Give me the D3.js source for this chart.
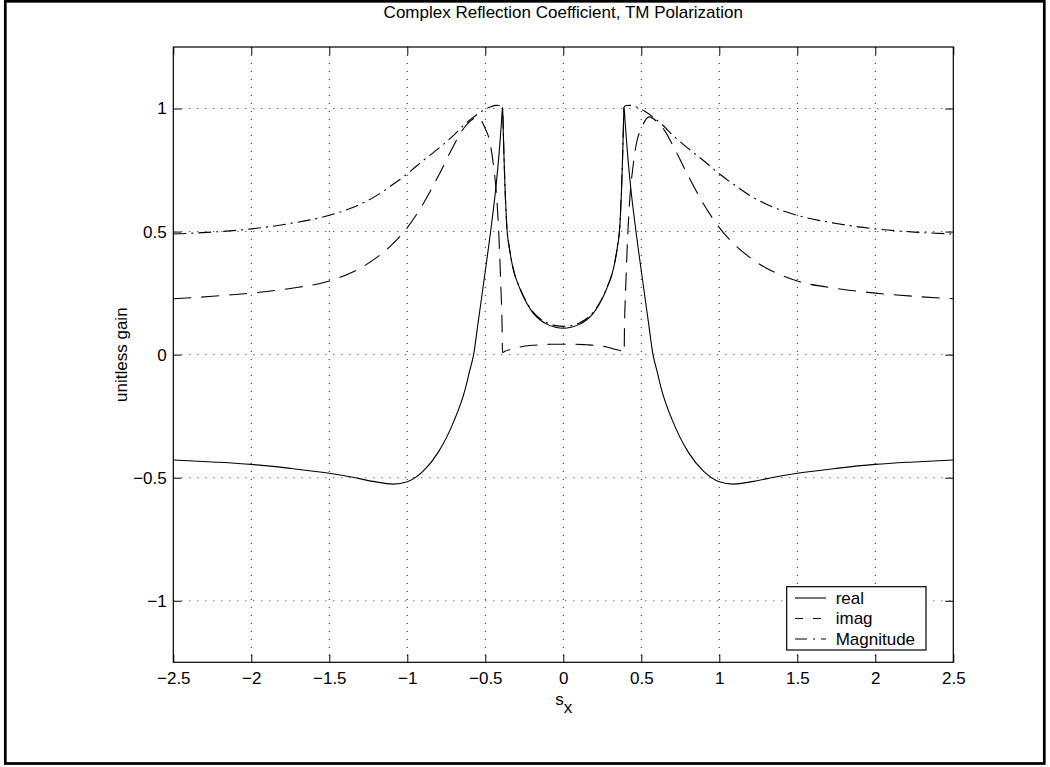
<!DOCTYPE html>
<html>
<head>
<meta charset="utf-8">
<script src="https://cdn.jsdelivr.net/npm/d3@7"></script>
<style>
  body { margin: 0; background: #fff; }
  svg { display: block; }
  text { font-family: "Liberation Sans", Arial, Helvetica, sans-serif; fill: #000; }
</style>
</head>
<body>
<div id="chart"></div>
<script>
// values: [s_x, value]
const realPts = [
  [-2.5, -0.428], [-2.25, -0.436], [-2.0, -0.446], [-1.75, -0.462], [-1.5, -0.482],
  [-1.35, -0.498], [-1.22, -0.515], [-1.09, -0.526], [-1.0, -0.516], [-0.9, -0.474],
  [-0.8, -0.395], [-0.7, -0.268], [-0.631, -0.145], [-0.6, -0.065], [-0.575, 0.0],
  [-0.545, 0.135], [-0.5, 0.34], [-0.46, 0.53], [-0.432, 0.68], [-0.41, 0.83],
  [-0.398, 0.93], [-0.389, 1.005], [-0.385, 0.915], [-0.38, 0.80], [-0.372, 0.65],
  [-0.363, 0.528], [-0.345, 0.43], [-0.32, 0.345], [-0.278, 0.268], [-0.235, 0.21],
  [-0.192, 0.168], [-0.15, 0.142], [-0.106, 0.124], [-0.05, 0.111], [0, 0.107],
  [0.05, 0.111], [0.106, 0.124], [0.15, 0.142], [0.192, 0.168], [0.235, 0.21],
  [0.278, 0.268], [0.32, 0.345], [0.345, 0.43], [0.363, 0.528], [0.372, 0.65],
  [0.38, 0.80], [0.385, 0.915], [0.389, 1.005], [0.398, 0.93], [0.41, 0.83],
  [0.432, 0.68], [0.46, 0.53], [0.5, 0.34], [0.545, 0.135], [0.575, 0.0],
  [0.6, -0.065], [0.631, -0.145], [0.7, -0.268], [0.8, -0.395], [0.9, -0.474],
  [1.0, -0.516], [1.09, -0.526], [1.22, -0.515], [1.35, -0.498], [1.5, -0.482],
  [1.75, -0.462], [2.0, -0.446], [2.25, -0.436], [2.5, -0.428]
];

const imagPts = [
  [-2.5, 0.227], [-2.25, 0.237], [-2.0, 0.25], [-1.75, 0.269], [-1.5, 0.299],
  [-1.4, 0.322], [-1.3, 0.352], [-1.2, 0.393], [-1.1, 0.446], [-1.0, 0.516],
  [-0.9, 0.611], [-0.8, 0.727], [-0.7, 0.853], [-0.65, 0.91], [-0.6, 0.947],
  [-0.55, 0.966], [-0.5, 0.918], [-0.47, 0.862], [-0.444, 0.75], [-0.427, 0.64],
  [-0.412, 0.47], [-0.4, 0.27], [-0.392, 0.10], [-0.39, 0.008], [-0.38, 0.012],
  [-0.33, 0.022], [-0.278, 0.031], [-0.2, 0.038], [-0.149, 0.04], [-0.08, 0.042],
  [0, 0.042], [0.08, 0.042], [0.149, 0.04], [0.2, 0.038], [0.278, 0.031],
  [0.33, 0.022], [0.38, 0.012], [0.39, 0.008], [0.392, 0.10], [0.4, 0.27],
  [0.412, 0.47], [0.427, 0.64], [0.444, 0.75], [0.47, 0.862], [0.5, 0.918],
  [0.55, 0.966], [0.6, 0.947], [0.65, 0.91], [0.7, 0.853], [0.8, 0.727],
  [0.9, 0.611], [1.0, 0.516], [1.1, 0.446], [1.2, 0.393], [1.3, 0.352],
  [1.4, 0.322], [1.5, 0.299], [1.75, 0.269], [2.0, 0.25], [2.25, 0.237],
  [2.5, 0.227]
];

const magPts = [
  [-2.5, 0.49], [-2.25, 0.498], [-2.0, 0.511], [-1.75, 0.533], [-1.5, 0.566],
  [-1.35, 0.598], [-1.2, 0.645], [-1.1, 0.688], [-1.0, 0.735], [-0.9, 0.788],
  [-0.8, 0.838], [-0.7, 0.893], [-0.64, 0.931], [-0.58, 0.963], [-0.52, 0.99],
  [-0.47, 1.006], [-0.43, 1.013], [-0.405, 1.012], [-0.389, 1.005], [-0.385, 0.918],
  [-0.38, 0.802], [-0.372, 0.652], [-0.363, 0.53], [-0.345, 0.432], [-0.32, 0.347],
  [-0.278, 0.27], [-0.235, 0.213], [-0.192, 0.172], [-0.15, 0.147], [-0.106, 0.13],
  [-0.05, 0.118], [0, 0.115], [0.05, 0.118], [0.106, 0.13], [0.15, 0.147],
  [0.192, 0.172], [0.235, 0.213], [0.278, 0.27], [0.32, 0.347], [0.345, 0.432],
  [0.363, 0.53], [0.372, 0.652], [0.38, 0.802], [0.385, 0.918], [0.389, 1.005],
  [0.405, 1.012], [0.43, 1.013], [0.47, 1.006], [0.52, 0.99], [0.58, 0.963],
  [0.64, 0.931], [0.7, 0.893], [0.8, 0.838], [0.9, 0.788], [1.0, 0.735],
  [1.1, 0.688], [1.2, 0.645], [1.35, 0.598], [1.5, 0.566], [1.75, 0.533],
  [2.0, 0.511], [2.25, 0.498], [2.5, 0.49]
];

const xTicks = [-2.5, -2, -1.5, -1, -0.5, 0, 0.5, 1, 1.5, 2, 2.5];
const yTicks = [-1, -0.5, 0, 0.5, 1];
const seriesNames = ['real', 'imag', 'Magnitude'];

const width = 1050;
const height = 767;
const margin = { top: 47, right: 96.7, bottom: 104.7, left: 173.3 };
const innerW = width - margin.left - margin.right;
const innerH = height - margin.top - margin.bottom;
const font = 17;

const svg = d3.select('#chart')
  .append('svg')
  .attr('width', width)
  .attr('height', height);

// outer figure frame
svg.append('rect')
  .attr('x', 5.3).attr('y', 1.3)
  .attr('width', 1039).attr('height', 762.2)
  .attr('fill', 'none').attr('stroke', '#000').attr('stroke-width', 2.7);

const g = svg.append('g')
  .attr('transform', `translate(${margin.left},${margin.top})`);

const x = d3.scaleLinear().domain([-2.5, 2.5]).range([0, innerW]);
const y = d3.scaleLinear().domain([-1.25, 1.25]).range([innerH, 0]);

// dotted grid
g.append('g').selectAll('line').data(xTicks.slice(1, -1)).join('line')
  .attr('x1', (d) => x(d)).attr('x2', (d) => x(d))
  .attr('y1', 0).attr('y2', innerH)
  .attr('stroke', '#222').attr('stroke-width', 1).attr('stroke-dasharray', '1 7');
g.append('g').selectAll('line').data(yTicks).join('line')
  .attr('x1', 0).attr('x2', innerW)
  .attr('y1', (d) => y(d)).attr('y2', (d) => y(d))
  .attr('stroke', '#222').attr('stroke-width', 1).attr('stroke-dasharray', '1 7');

const tickFmt = (d) => String(d).replace('-', '\u2212');

// axes with inward ticks on all four sides
g.append('g')
  .attr('transform', `translate(0,${innerH})`)
  .call(d3.axisBottom(x).tickValues(xTicks).tickSizeInner(-8).tickSizeOuter(0).tickPadding(9.5).tickFormat(tickFmt));
g.append('g')
  .call(d3.axisTop(x).tickValues(xTicks).tickSizeInner(-8).tickSizeOuter(0).tickFormat(''));
g.append('g')
  .call(d3.axisLeft(y).tickValues(yTicks).tickSizeInner(-8).tickSizeOuter(0).tickPadding(6.6).tickFormat(tickFmt));
g.append('g')
  .attr('transform', `translate(${innerW},0)`)
  .call(d3.axisRight(y).tickValues(yTicks).tickSizeInner(-8).tickSizeOuter(0).tickFormat(''));

g.selectAll('.domain').remove();
g.selectAll('.tick line').attr('stroke', '#000');
g.selectAll('.tick text').attr('font-size', font).attr('font-family', null);

g.append('rect')
  .attr('width', innerW).attr('height', innerH)
  .attr('fill', 'none').attr('stroke', '#000').attr('stroke-width', 1.2);

// curves
const line = d3.line()
  .x((d) => x(d[0]))
  .y((d) => y(d[1]))
  .curve(d3.curveMonotoneX);

const styles = [
  { data: realPts, dash: null },
  { data: imagPts, dash: '18 10' },
  { data: magPts, dash: '13 5 2 5' }
];

styles.forEach((s) => {
  g.append('path')
    .datum(s.data)
    .attr('fill', 'none')
    .attr('stroke', '#000')
    .attr('stroke-width', 1.1)
    .attr('stroke-dasharray', s.dash)
    .attr('d', line);
});

// title and axis labels
svg.append('text')
  .attr('x', margin.left + innerW / 2).attr('y', 18)
  .attr('text-anchor', 'middle').attr('font-size', font)
  .text('Complex Reflection Coefficient, TM Polarization');

const xl = svg.append('text')
  .attr('x', margin.left + innerW / 2 + 0.5).attr('y', 705)
  .attr('text-anchor', 'middle').attr('font-size', font);
xl.append('tspan').text('s');
xl.append('tspan').attr('dy', 8).attr('font-size', font).text('x');

svg.append('text')
  .attr('transform', `translate(127,${margin.top + innerH / 2}) rotate(-90)`)
  .attr('text-anchor', 'middle').attr('font-size', font)
  .text('unitless gain');

// legend
const lg = svg.append('g');
lg.append('rect')
  .attr('x', 786.7).attr('y', 586.7)
  .attr('width', 139.3).attr('height', 63.3)
  .attr('fill', '#fff').attr('stroke', '#000').attr('stroke-width', 1.2);

const legendY = d3.scalePoint().domain(seriesNames).range([598, 639]);
seriesNames.forEach((name, i) => {
  lg.append('line')
    .attr('x1', 795).attr('x2', 826)
    .attr('y1', legendY(name)).attr('y2', legendY(name))
    .attr('stroke', '#000').attr('stroke-width', 1.1)
    .attr('stroke-dasharray', i === 0 ? null : (i === 1 ? '8 10' : '12 6 2 6'));
  lg.append('text')
    .attr('x', 835.7).attr('y', legendY(name))
    .attr('dy', '0.35em').attr('font-size', font)
    .text(name);
});
</script>
</body>
</html>
